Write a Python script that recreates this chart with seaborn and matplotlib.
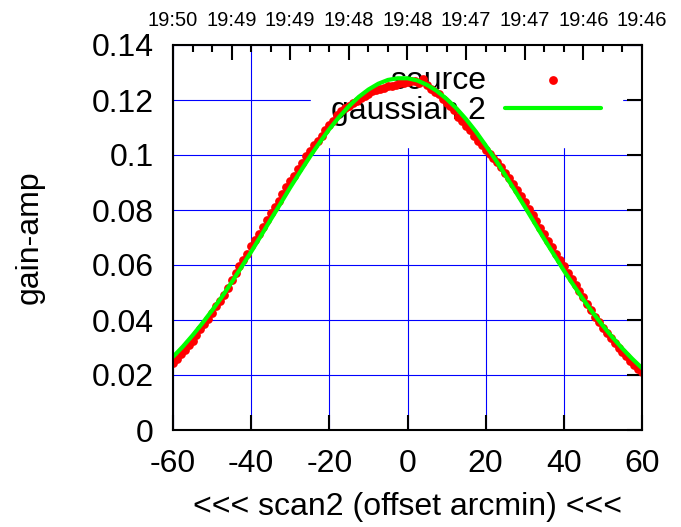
import numpy as np
import pandas as pd
import seaborn as sns
import matplotlib.pyplot as plt

# scan offsets (arcmin) and measured gain-amp
src_x = list(range(-60, 61))
src_y = [0.0245, 0.0258, 0.0275, 0.0292, 0.0308, 0.0325, 0.0345, 0.0366, 0.0385, 0.0402,
         0.0425, 0.0450, 0.0470, 0.0492, 0.0518, 0.0545, 0.0570, 0.0596, 0.0620, 0.0640,
         0.0668, 0.0692, 0.0712, 0.0738, 0.0762, 0.0788, 0.0810, 0.0832, 0.0860, 0.0885,
         0.0905, 0.0925, 0.0948, 0.0972, 0.0995, 0.1015, 0.1038, 0.1052, 0.1070, 0.1092,
         0.1108, 0.1125, 0.1145, 0.1160, 0.1172, 0.1180, 0.1190, 0.1198, 0.1208, 0.1215,
         0.1222, 0.1232, 0.1238, 0.1240, 0.1245, 0.1250, 0.1252, 0.1255, 0.1262, 0.1262,
         0.1265, 0.1270, 0.1268, 0.1262, 0.1278, 0.1255, 0.1240, 0.1230, 0.1222, 0.1205,
         0.1190, 0.1180, 0.1162, 0.1140, 0.1125, 0.1105, 0.1090, 0.1070, 0.1050, 0.1035,
         0.1018, 0.1005, 0.0990, 0.0975, 0.0955, 0.0935, 0.0915, 0.0895, 0.0872, 0.0850,
         0.0830, 0.0805, 0.0782, 0.0760, 0.0735, 0.0712, 0.0688, 0.0665, 0.0640, 0.0618,
         0.0595, 0.0572, 0.0550, 0.0528, 0.0505, 0.0482, 0.0458, 0.0435, 0.0412, 0.0392,
         0.0372, 0.0352, 0.0333, 0.0315, 0.0298, 0.0282, 0.0268, 0.0252, 0.0238, 0.0222,
         0.0210]

# fitted curve
fit_x = [-60, -57.5, -55, -52.5, -50, -47.5, -45, -42.5, -40, -37.5, -35, -32.5, -30,
         -27.5, -25, -22.5, -20, -17.5, -15, -12.5, -10, -7.5, -5, -2.5, 0,
         2.5, 5, 7.5, 10, 12.5, 15, 17.5, 20, 22.5, 25, 27.5, 30, 32.5, 35,
         37.5, 40, 42.5, 45, 47.5, 50, 52.5, 55, 57.5, 60]
fit_y = [0.0266, 0.0303, 0.0344, 0.0388, 0.0435, 0.0484, 0.0537, 0.0592, 0.0648, 0.0706,
         0.0765, 0.0823, 0.0882, 0.0938, 0.0993, 0.1045, 0.1094, 0.1138, 0.1177, 0.1211,
         0.1238, 0.1259, 0.1273, 0.1279, 0.1279, 0.1271, 0.1255, 0.1233, 0.1204, 0.1170,
         0.1130, 0.1085, 0.1035, 0.0983, 0.0927, 0.0870, 0.0812, 0.0753, 0.0694, 0.0637,
         0.0580, 0.0526, 0.0474, 0.0425, 0.0379, 0.0336, 0.0296, 0.0259, 0.0225]

top_labels = ["19:50", "19:49", "19:49", "19:48", "19:48", "19:47", "19:47", "19:46", "19:46"]

sns.set_theme(style="white")
plt.rcParams['font.family'] = ['Liberation Sans', 'DejaVu Sans']
plt.rcParams['axes.unicode_minus'] = False
plt.rcParams['text.color'] = 'black'
plt.rcParams['axes.labelcolor'] = 'black'
plt.rcParams['xtick.color'] = 'black'
plt.rcParams['ytick.color'] = 'black'

fig = plt.figure(figsize=(6.81, 5.27), dpi=100)
ax = fig.add_axes([173/681, 1 - 430/527, 469/681, 385/527])

src = pd.DataFrame({"x": src_x, "y": src_y})
fit = pd.DataFrame({"x": fit_x, "y": fit_y})

sns.scatterplot(data=src, x="x", y="y", ax=ax, color="red", s=40, linewidth=0,
                label="source", zorder=3)
sns.lineplot(data=fit, x="x", y="y", ax=ax, color=(0, 1, 0), lw=3, label="gaussian 2",
             zorder=4, sort=False)

ax.set_xlim(-60, 60)
ax.set_ylim(0, 0.14)
ax.set_xticks(np.arange(-60, 61, 20))
ax.set_yticks(np.arange(0, 0.1401, 0.02))
ax.set_yticklabels(["0", "0.02", "0.04", "0.06", "0.08", "0.1", "0.12", "0.14"])
ax.grid(True, color="blue", lw=0.8)
ax.tick_params(direction="in", length=11, width=1.5, labelsize=23, color="black",
               labelcolor="black", right=True, pad=14)
ax.tick_params(axis="x", pad=14)
for s in ax.spines.values():
    s.set_color("black")
    s.set_linewidth(1.5)
    s.set_zorder(6)

ax.set_xlabel("<<< scan2 (offset arcmin) <<<", fontsize=23, labelpad=9, color="black")
ax.set_ylabel("gain-amp", fontsize=23, labelpad=34, color="black")

top = ax.twiny()
top.set_xlim(-60, 60)
top.set_xticks(np.linspace(-60, 60, 9))
top.set_xticklabels(top_labels, fontsize=14.5, color="black")
top.set_xticks(np.arange(-60, 61, 5), minor=True)
top.tick_params(axis="x", which="major", direction="in", length=11, width=1.5, pad=11)
top.tick_params(axis="x", which="minor", direction="in", length=5, width=1.5)
for s in top.spines.values():
    s.set_visible(False)

# legend box: right edge at 622 px, top at axes top
leg = ax.legend(loc="upper right", bbox_to_anchor=((622 - 173) / 469, 1.0),
                markerfirst=False, frameon=True, fontsize=23, handlelength=3.0,
                handletextpad=0.6, labelspacing=0.0, borderaxespad=0, borderpad=0.65,
                fancybox=False, edgecolor="white", framealpha=1)
leg.set_zorder(2)

fig.savefig("out.png", dpi=100)
